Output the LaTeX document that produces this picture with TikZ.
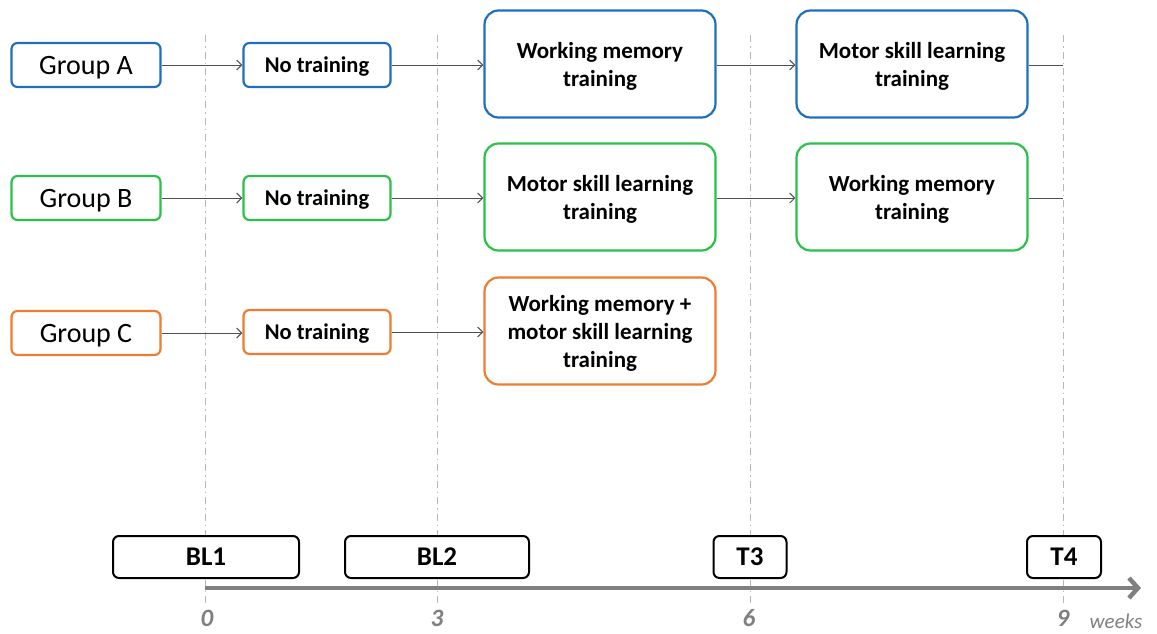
\documentclass[tikz,border=0pt]{standalone}
\usepackage{fontspec}
\setmainfont{Carlito}
\usetikzlibrary{arrows.meta}
\definecolor{cblue}{HTML}{1F6FC0}
\definecolor{cgreen}{HTML}{2BC04A}
\definecolor{corange}{HTML}{ED7D31}
\definecolor{cline}{HTML}{505050}
\definecolor{caxis}{HTML}{808080}
\definecolor{cdash}{HTML}{B8B8B8}
\tikzset{
  x=1pt, y=-1pt,
  grp/.style={draw, fill=white, rounded corners=6pt, line width=2.2pt, minimum width=149pt, minimum height=44pt, inner sep=0pt, text depth=0pt, font=\fontsize{28}{30}\selectfont},
  ntbox/.style={draw, fill=white, rounded corners=6pt, line width=2.2pt, minimum width=147pt, minimum height=44pt, inner sep=0pt, text depth=0pt, font=\bfseries\fontsize{22.5}{24}\selectfont},
  bigbox/.style={draw, fill=white, rounded corners=14pt, line width=2.2pt, minimum width=231pt, minimum height=107pt, inner sep=0pt, text depth=0pt, align=center, font=\bfseries\fontsize{23}{28}\selectfont},
  tpbox/.style={draw=black, fill=white, rounded corners=6pt, line width=2pt, minimum height=42pt, inner sep=0pt, font=\bfseries\fontsize{27}{30}\selectfont},
  conn/.style={draw=cline, line width=1pt, -{Straight Barb[length=5pt,width=10pt]}},
  connend/.style={draw=cline, line width=1pt},
  vline/.style={draw=cdash, line width=1pt, dash pattern=on 7pt off 4pt on 1.5pt off 4pt},
  tick/.style={text=caxis, inner sep=0pt, font=\bfseries\itshape\fontsize{25}{28}\selectfont},
}
\begin{document}
\begin{tikzpicture}
\useasboundingbox (0,0) rectangle (1157,633);
% dashed week lines
\foreach \xx in {205,437,750,1063} \draw[vline] (\xx,35) -- (\xx,603);
% time axis
\coordinate (ax0) at (205,588);
\coordinate (ax1) at (1141,588);
\draw[draw=caxis, line width=4.5pt, -{Straight Barb[length=9pt,width=20pt]}] (ax0) -- (ax1);
\node[tick] (t0) at (207,618) {0};
\node[tick] (t3) at (437,618) {3};
\node[tick] (t6) at (749,618) {6};
\node[tick] (t9) at (1063,618) {9};
\node[text=caxis, inner sep=0pt, font=\itshape\fontsize{21}{24}\selectfont] (wk) at (1116,621) {weeks};
% time points
\node[tpbox, minimum width=186pt] (bl1) at (206,557) {BL1};
\node[tpbox, minimum width=184pt] (bl2) at (437,557) {BL2};
\node[tpbox, minimum width=73pt] (tt3) at (750,557) {T3};
\node[tpbox, minimum width=74pt] (tt4) at (1064,557) {T4};
% Group A
\node[grp, draw=cblue] (ga) at (86,65) {Group A};
\node[ntbox, draw=cblue] (na) at (317,65) {No training};
\node[bigbox, draw=cblue] (wa) at (600,64) {Working memory\\training};
\node[bigbox, draw=cblue] (ma) at (912,64) {Motor skill learning\\training};
\coordinate (ea) at (1063,65);
\draw[conn] (ga) -- (na);
\draw[conn] (na) -- (na -| wa.west);
\draw[conn] (wa.east |- 0,65) -- (ma.west |- 0,65);
\draw[connend] (ma.east |- ea) -- (ea);
% Group B
\node[grp, draw=cgreen] (gb) at (86,198) {Group B};
\node[ntbox, draw=cgreen] (nb) at (317,198) {No training};
\node[bigbox, draw=cgreen] (wb) at (600,197) {Motor skill learning\\training};
\node[bigbox, draw=cgreen] (mb) at (912,197) {Working memory\\training};
\coordinate (eb) at (1063,198);
\draw[conn] (gb) -- (nb);
\draw[conn] (nb) -- (nb -| wb.west);
\draw[conn] (wb.east |- 0,198) -- (mb.west |- 0,198);
\draw[connend] (mb.east |- eb) -- (eb);
% Group C
\node[grp, draw=corange] (gc) at (86,333) {Group C};
\node[ntbox, draw=corange] (nc) at (317,332) {No training};
\node[bigbox, draw=corange] (wc) at (600,331) {Working memory +\\motor skill learning\\training};
\draw[conn] (gc) -- (gc -| nc.west);
\draw[conn] (nc) -- (nc -| wc.west);
\end{tikzpicture}
\end{document}
